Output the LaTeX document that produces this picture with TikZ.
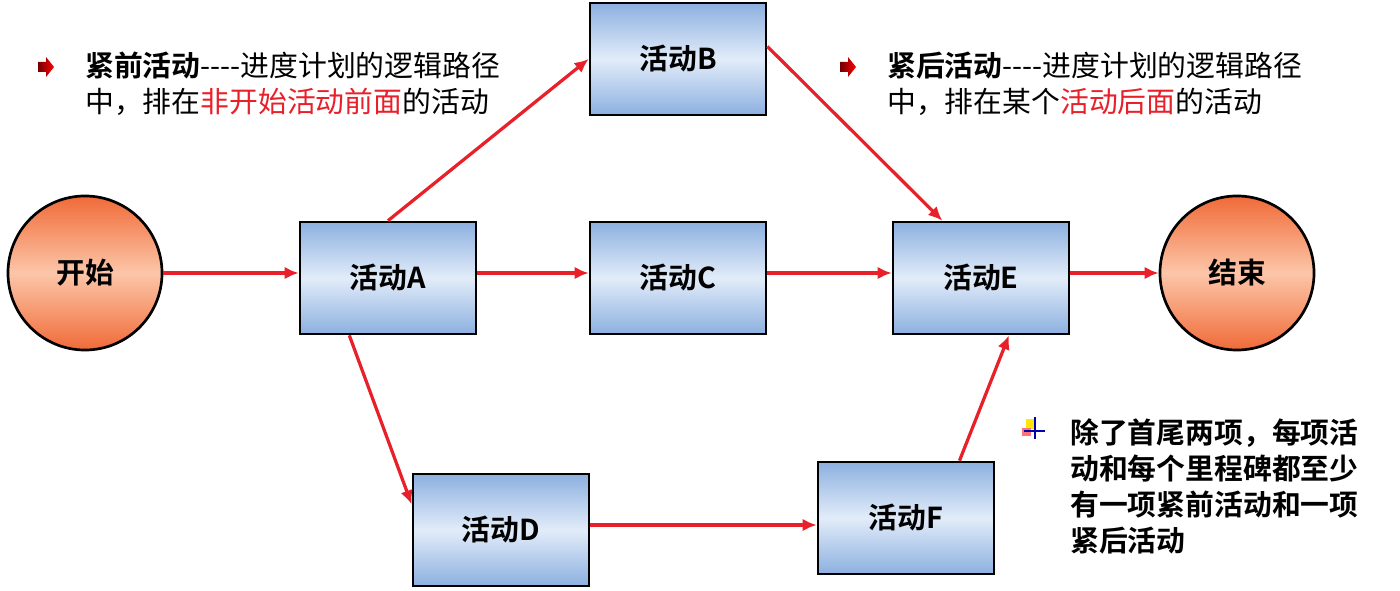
\documentclass[tikz,border=0pt]{standalone}
\usepackage{fontspec}
\setmainfont{Noto Sans CJK SC}[BoldFont={Noto Sans CJK SC Bold}]
\usepackage{xcolor}
\usetikzlibrary{arrows.meta,calc,positioning}
\definecolor{flowred}{HTML}{E8202A}
\definecolor{boxedge}{HTML}{8CB0E0}
\definecolor{boxmid}{HTML}{E2ECF9}
\definecolor{balledge}{HTML}{F06A38}
\definecolor{ballmid}{HTML}{FCC6A8}
\newcommand{\bigtext}{\fontsize{20.5pt}{25.6pt}\selectfont}
\tikzset{
  actbox/.style={draw=black,line width=1.9pt,minimum width=4.4cm,minimum height=2.8cm,
    top color=boxedge,bottom color=boxedge,middle color=boxmid,font=\bfseries\bigtext},
  eventball/.style={circle,draw=black,line width=1.9pt,minimum size=3.85cm,
    top color=balledge,bottom color=balledge,middle color=ballmid,font=\bfseries\bigtext},
  flow/.style={draw=flowred,line width=2.3pt,-{Latex[length=10pt,width=9pt]}},
  note/.style={anchor=north west,inner sep=0pt,align=left,font=\bigtext}
}
\begin{document}
\begin{tikzpicture}[x=0.025cm,y=-0.025cm]
\useasboundingbox (0,0) rectangle (1400,591);
% events and activities
\node[eventball] (begin) at (85,273) {开始};
\node[actbox] (actA) at (388,278) {活动A};
\node[actbox] (actB) at (678,59) {活动B};
\node[actbox] (actC) at (678,278) {活动C};
\node[actbox] (actE) at (981,278) {活动E};
\node[eventball] (finish) at (1237,273) {结束};
\node[actbox] (actD) at (501,530) {活动D};
\node[actbox] (actF) at (906,518) {活动F};
% connectors
\draw[flow] (begin) -- (actA.west |- begin);
\draw[flow] (actA.north) -- (actB.west);
\draw[flow] (actA.east |- begin) -- (actC.west |- begin);
\draw[flow] (actC.east |- begin) -- (actE.west |- begin);
\draw[flow] (actE.east |- finish) -- (finish);
\draw[flow] (actB.8) -- (actE.124);
\draw[flow] (actA.236) -- (actD.164);
\draw[flow] (actD.east |- 0,525) -- (actF.west |- 0,525);
\draw[flow] (actF.47) -- (actE.-64);
% notes
\shade[left color=red!45!black,right color=red] (38,62) -- (46,62) -- (46,57) -- (54,67)
  -- (46,77) -- (46,72) -- (38,72) -- cycle;
\node[note] (preNote) at (85,52) {\textbf{紧前活动}-{}-{}-{}-进度计划的逻辑路径\\
  中，排在\textcolor{flowred}{非开始活动前面}的活动};
\shade[left color=red!45!black,right color=red] (840,62) -- (848,62) -- (848,57) -- (856,67)
  -- (848,77) -- (848,72) -- (840,72) -- cycle;
\node[note] (postNote) at (887,52) {\textbf{紧后活动}-{}-{}-{}-进度计划的逻辑路径\\
  中，排在某个\textcolor{flowred}{活动后面}的活动};
\fill[yellow!90!orange] (1026,419) rectangle (1034,429);
\fill[red!55] (1022,428) rectangle (1031,436);
\draw[blue!70!black,line width=1.5pt] (1035,417) -- (1035,439) (1024,431) -- (1045,431);
\node[note,font=\bfseries\bigtext] (ruleNote) at (1070,418)
  {除了首尾两项，每项活\\动和每个里程碑都至少\\有一项紧前活动和一项\\紧后活动};
\end{tikzpicture}
\end{document}
